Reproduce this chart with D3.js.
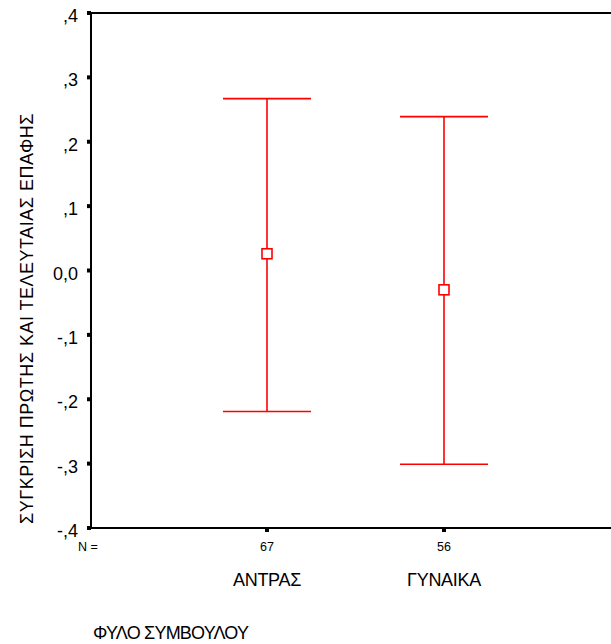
<!DOCTYPE html>
<html><head><meta charset="utf-8">
<script src="https://cdn.jsdelivr.net/npm/d3@7/dist/d3.min.js"></script>
<style>body{margin:0;background:#fff}svg{display:block}text{font-family:"Liberation Sans",Arial,sans-serif;fill:#000}</style>
</head><body><svg id="c" width="611" height="644"></svg>
<script>
const categories = ["ΑΝΤΡΑΣ", "ΓΥΝΑΙΚΑ"];
const counts = [67, 56];
const means = [0.026, -0.030];
const upper = [0.267, 0.239];
const lower = [-0.219, -0.301];
const yTicks = [-0.4, -0.3, -0.2, -0.1, 0, 0.1, 0.2, 0.3, 0.4];
const yTickLabels = ["-,4", "-,3", "-,2", "-,1", "0,0", ",1", ",2", ",3", ",4"];
const yTitle = "ΣΥΓΚΡΙΣΗ ΠΡΩΤΗΣ ΚΑΙ ΤΕΛΕΥΤΑΙΑΣ ΕΠΑΦΗΣ";
const xTitle = "ΦΥΛΟ ΣΥΜΒΟΥΛΟΥ";

const svg = d3.select("#c");
const L = 91, T = 13, R = 612, B = 528;
const y = d3.scaleLinear().domain([-0.4, 0.4]).range([B, T]);
const x = d3.scalePoint().domain(categories).range([267, 444]);

// frame
svg.append("line").attr("x1", L).attr("x2", R).attr("y1", T).attr("y2", T).attr("stroke", "#000").attr("stroke-width", 2);
svg.append("line").attr("x1", L).attr("x2", R).attr("y1", B).attr("y2", B).attr("stroke", "#000").attr("stroke-width", 2);
svg.append("line").attr("x1", L).attr("x2", L).attr("y1", T).attr("y2", B).attr("stroke", "#000").attr("stroke-width", 2);

// y ticks
const yg = svg.append("g");
yTicks.forEach((v, i) => {
  yg.append("rect").attr("x", L - 4).attr("y", y(v) - 2).attr("width", 4).attr("height", 4).attr("fill", "#000");
  yg.append("text").attr("x", L - 13).attr("y", y(v) + 9).attr("text-anchor", "end").attr("font-size", 18).text(yTickLabels[i]);
});

// x ticks
categories.forEach((c, i) => {
  svg.append("rect").attr("x", x(c) - 2).attr("y", B).attr("width", 4).attr("height", 4).attr("fill", "#000");
  svg.append("text").attr("x", x(c)).attr("y", 551).attr("text-anchor", "middle").attr("font-size", 12.5).text(counts[i]);
  svg.append("text").attr("x", x(c)).attr("y", 586).attr("text-anchor", "middle").attr("font-size", 18).attr("letter-spacing", -0.3).text(c);
});
svg.append("text").attr("x", 78).attr("y", 551).attr("font-size", 12.5).text("N =");

// error bars
const cap = 44;
const eg = svg.append("g").attr("stroke", "#ff0000").attr("stroke-width", 1.6).attr("fill", "none");
categories.forEach((c, i) => {
  const cx = x(c);
  eg.append("line").attr("x1", cx).attr("x2", cx).attr("y1", y(upper[i])).attr("y2", y(lower[i]));
  eg.append("line").attr("x1", cx - cap).attr("x2", cx + cap).attr("y1", y(upper[i])).attr("y2", y(upper[i]));
  eg.append("line").attr("x1", cx - cap).attr("x2", cx + cap).attr("y1", y(lower[i])).attr("y2", y(lower[i]));
  eg.append("rect").attr("x", cx - 5).attr("y", y(means[i]) - 5).attr("width", 10).attr("height", 10).attr("fill", "#fff");
});

// titles
svg.append("text").attr("transform", "translate(33,318.5) rotate(-90)").attr("text-anchor", "middle").attr("font-size", 18).attr("letter-spacing", 0.5).text(yTitle);
svg.append("text").attr("x", 93).attr("y", 639).attr("font-size", 18).attr("letter-spacing", -0.8).text(xTitle);
</script></body></html>
